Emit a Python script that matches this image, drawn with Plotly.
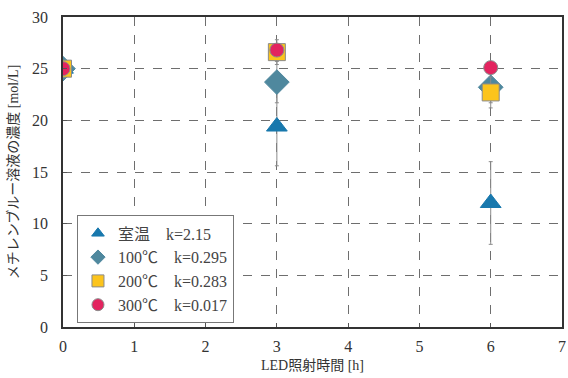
import plotly.graph_objects as go

times = [0, 3, 6]
names = ["室温　k=2.15", "100℃　k=0.295", "200℃　k=0.283", "300℃　k=0.017"]
room = [25.0, 19.4, 12.0]
room_err = [0.0, 3.8, 4.0]
c100 = [25.0, 23.7, 23.2]
c100_err = [0.0, 2.0, 1.5]
c200 = [25.0, 26.6, 22.7]
c200_err = [0.0, 1.2, 1.5]
c300 = [25.0, 26.8, 25.1]
c300_err = [0.0, 0.5, 0.5]

series = [
    (names[0], room, room_err, "triangle-up", "#1878ad", "#1878ad", 18, 11),
    (names[1], c100, c100_err, "diamond", "#4f889e", "#4f889e", 19, 11),
    (names[2], c200, c200_err, "square", "#fcc41c", "#8a8a8a", 17, 12),
    (names[3], c300, c300_err, "circle", "#e3245f", "#8a8a8a", 14, 12),
]

font_family = "Liberation Serif, Noto Sans CJK JP, serif"

fig = go.Figure()
for name, vals, err, sym, col, lc, sz, lsz in series:
    fig.add_trace(go.Scatter(
        x=times, y=vals, mode="markers", name=name, showlegend=False,
        marker=dict(symbol=sym, color=col, size=sz,
                    line=dict(color=lc, width=1)),
        error_y=dict(type="data", array=err, visible=True,
                     color="#8c8c8c", thickness=1, width=2),
    ))
for name, vals, err, sym, col, lc, sz, lsz in series:
    fig.add_trace(go.Scatter(
        x=[None], y=[None], mode="markers", name=name, showlegend=True,
        marker=dict(symbol=sym, color=col, size=lsz,
                    line=dict(color=lc, width=1)),
    ))

axis_common = dict(
    showline=True, linecolor="#333333", linewidth=1.5, mirror=True,
    showgrid=True, gridcolor="#6e6e6e", gridwidth=1, griddash="dash",
    zeroline=False, ticks="inside", ticklen=4, tickcolor="#555555",
    tickfont=dict(size=16, color="#333333", family=font_family),
    automargin=False,
)

fig.update_layout(
    width=568, height=378,
    margin=dict(l=63, r=6, t=17, b=51),
    paper_bgcolor="white", plot_bgcolor="white",
    font=dict(family=font_family, color="#333333"),
    xaxis=dict(range=[0, 7], dtick=1, ticklabelstandoff=4,
               title=dict(text="LED照射時間 [h]", font=dict(size=14), standoff=6),
               **axis_common),
    yaxis=dict(range=[0, 30], dtick=5, ticklabelstandoff=10,
               title=dict(text="メチレンブルー溶液の濃度 [mol/L]", font=dict(size=14), standoff=10),
               **axis_common),
    legend=dict(x=0.028, y=0.36, xanchor="left", yanchor="top",
                bgcolor="white", bordercolor="#777777", borderwidth=1,
                font=dict(size=16, color="#444444", family=font_family),
                tracegroupgap=0),
    showlegend=True,
)

fig.write_html(
    "out.html",
    config={"displayModeBar": False},
    post_script="document.body.style.margin='0';document.body.style.overflow='hidden';",
)
